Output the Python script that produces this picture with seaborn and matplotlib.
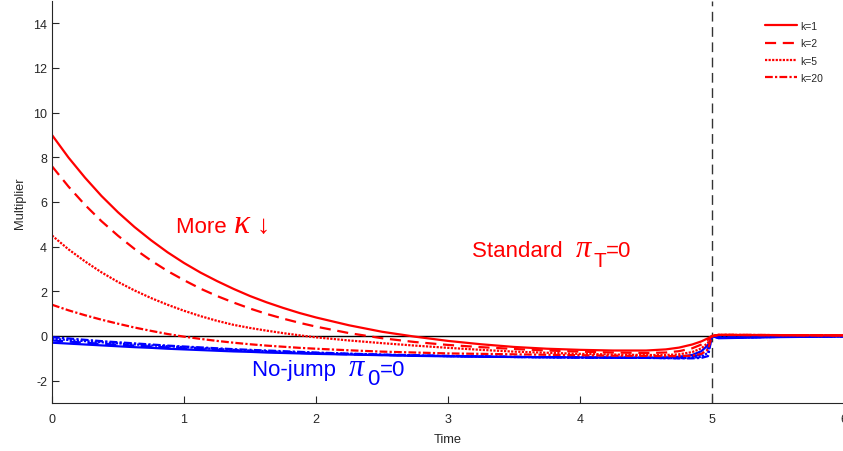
import numpy as np
import pandas as pd
import matplotlib
matplotlib.use("Agg")
import matplotlib.pyplot as plt
import seaborn as sns

# ---------------- data ----------------
time = [0, 0.125, 0.25, 0.375, 0.5, 0.625, 0.75, 0.875, 1.0, 1.125, 1.25, 1.375, 1.5,
        1.625, 1.75, 1.875, 2.0,
        2.25, 2.5, 2.75, 3.0, 3.25, 3.5, 3.75, 4.0, 4.25, 4.5,
        4.65, 4.75, 4.85, 4.92, 4.97, 5.0,
        5.05, 5.5, 6.0]

labels = ["k=1", "k=2", "k=5", "k=20"]

std_k1 = [9.0, 7.99, 7.09, 6.27, 5.54, 4.88, 4.29, 3.75, 3.27, 2.84, 2.46, 2.11, 1.79,
          1.51, 1.26, 1.03, 0.83,
          0.48, 0.19, -0.03, -0.22, -0.37, -0.49, -0.57, -0.62, -0.65, -0.65,
          -0.6, -0.52, -0.38, -0.24, -0.1, 0.0,
          0.05, 0.04, 0.03]
std_k2 = [7.6, 6.69, 5.87, 5.14, 4.49, 3.9, 3.38, 2.91, 2.5, 2.12, 1.79, 1.5, 1.23,
          0.99, 0.78, 0.59, 0.42,
          0.13, -0.1, -0.27, -0.4, -0.5, -0.58, -0.65, -0.7, -0.74, -0.76,
          -0.74, -0.68, -0.55, -0.38, -0.17, 0.0,
          0.05, 0.04, 0.03]
std_k5 = [4.5, 3.88, 3.34, 2.85, 2.42, 2.04, 1.7, 1.4, 1.13, 0.89, 0.68, 0.5, 0.36,
          0.24, 0.13, 0.03, -0.06,
          -0.2, -0.32, -0.43, -0.53, -0.62, -0.7, -0.75, -0.8, -0.83, -0.85,
          -0.85, -0.82, -0.72, -0.55, -0.3, 0.0,
          0.05, 0.04, 0.03]
std_k20 = [1.4, 1.15, 0.93, 0.73, 0.55, 0.38, 0.23, 0.09, -0.03, -0.13, -0.22, -0.3, -0.37,
           -0.43, -0.48, -0.53, -0.57,
           -0.64, -0.7, -0.74, -0.78, -0.8, -0.82, -0.84, -0.86, -0.88, -0.89,
           -0.9, -0.9, -0.88, -0.8, -0.6, 0.0,
           0.05, 0.04, 0.03]

nj_k1 = [-0.3, -0.34, -0.38, -0.42, -0.46, -0.5, -0.53, -0.57, -0.6, -0.63, -0.66, -0.69, -0.71,
         -0.74, -0.76, -0.78, -0.8,
         -0.83, -0.86, -0.89, -0.91, -0.93, -0.94, -0.95, -0.96, -0.97, -0.97,
         -0.96, -0.93, -0.85, -0.68, -0.4, 0.0,
         -0.1, -0.05, -0.02]
nj_k2 = [-0.2, -0.25, -0.3, -0.35, -0.39, -0.43, -0.47, -0.51, -0.55, -0.59, -0.62, -0.65, -0.68,
         -0.71, -0.73, -0.76, -0.78,
         -0.82, -0.85, -0.88, -0.9, -0.92, -0.94, -0.95, -0.96, -0.97, -0.98,
         -0.98, -0.97, -0.93, -0.82, -0.55, 0.0,
         -0.08, -0.04, -0.02]
nj_k5 = [-0.12, -0.18, -0.23, -0.28, -0.33, -0.38, -0.42, -0.46, -0.5, -0.54, -0.58, -0.62, -0.65,
         -0.68, -0.71, -0.74, -0.76,
         -0.8, -0.84, -0.87, -0.9, -0.92, -0.94, -0.95, -0.96, -0.97, -0.98,
         -0.99, -0.99, -0.98, -0.93, -0.75, 0.0,
         -0.07, -0.04, -0.02]
nj_k20 = [-0.05, -0.11, -0.17, -0.23, -0.28, -0.33, -0.38, -0.43, -0.47, -0.51, -0.55, -0.59, -0.62,
          -0.65, -0.68, -0.71, -0.74,
          -0.79, -0.83, -0.86, -0.89, -0.91, -0.93, -0.95, -0.96, -0.97, -0.98,
          -0.99, -1.0, -1.0, -0.98, -0.9, 0.0,
          -0.06, -0.03, -0.01]

x_ticks = [0, 1, 2, 3, 4, 5, 6]
y_ticks = [-2, 0, 2, 4, 6, 8, 10, 12, 14]

# ---------------- style ----------------
sns.set_style("ticks")
plt.rcParams["font.family"] = ["Liberation Sans", "DejaVu Sans"]
plt.rcParams["axes.unicode_minus"] = False
plt.rcParams["mathtext.fontset"] = "custom"
plt.rcParams["mathtext.rm"] = "Liberation Sans"
plt.rcParams["mathtext.it"] = "Liberation Serif:italic"

W, H = 843, 452
fig = plt.figure(figsize=(W / 100, H / 100), dpi=100)
ax = fig.add_axes([52 / W, 1 - 404 / H, 792 / W, 402 / H])

styles = ["-", (0, (5, 3)), (0, (1, 0.6)), (0, (3.5, 1, 1, 1))]
std_series = [std_k1, std_k2, std_k5, std_k20]
nj_series = [nj_k1, nj_k2, nj_k5, nj_k20]

for lab, vals, ls in zip(labels, nj_series, styles):
    df = pd.DataFrame({"Time": time, "Multiplier": vals})
    sns.lineplot(data=df, x="Time", y="Multiplier", ax=ax, color="#0000ff",
                 linewidth=1.6, linestyle=ls, legend=False)

for lab, vals, ls in zip(labels, std_series, styles):
    df = pd.DataFrame({"Time": time, "Multiplier": vals})
    sns.lineplot(data=df, x="Time", y="Multiplier", ax=ax, color="#ff0000",
                 linewidth=1.6, linestyle=ls, label=lab)

ax.axhline(0, color="black", linewidth=1.0, zorder=1)
ax.axvline(5, color="#333333", linewidth=1.0, linestyle=(0, (7, 4)), zorder=1)

ax.set_xlim(0, 6)
ax.set_ylim(-3, 15)
ax.set_xticks(x_ticks)
ax.set_yticks(y_ticks)
ax.set_xticklabels([str(v) for v in x_ticks])
ax.set_yticklabels([str(v) for v in y_ticks])
ax.tick_params(direction="in", length=5, width=0.8, labelsize=9, colors="#262626")
ax.tick_params(axis="x", pad=7)
ax.set_xlabel("Time", fontsize=9.3, color="#262626", labelpad=6)
ax.set_ylabel("Multiplier", fontsize=9.3, color="#262626", labelpad=5)

for s in ["top", "right"]:
    ax.spines[s].set_visible(False)
for s in ["left", "bottom"]:
    ax.spines[s].set_color("#262626")
    ax.spines[s].set_linewidth(0.8)


def rich_text(x, y, pieces, color):
    """pieces: list of (string, drop_px, fontsize, gap_px) placed one after another."""
    fig.canvas.draw()
    renderer = fig.canvas.get_renderer()
    disp_x, disp_y = ax.transData.transform((x, y))
    for s, drop, fs, gap in pieces:
        t = fig.text((disp_x + gap) / W, (disp_y - drop) / H, s, color=color,
                     fontsize=fs, ha="left", va="baseline")
        bb = t.get_window_extent(renderer=renderer)
        disp_x = bb.x1


rich_text(0.94, 4.65, [("More ", 0, 16, 0), (r"$\kappa$", 0, 24, 0),
                       ("↓", 0, 19, 5)], "#ff0000")
rich_text(3.18, 3.58, [("Standard  ", 0, 16, 0), (r"$\pi$", 0, 22, 0),
                       ("T", 10, 15, 1), ("=0", 0, 16, 0)], "#ff0000")
rich_text(1.515, -1.74, [("No-jump  ", 0, 16, 0), (r"$\pi$", 0, 22, 0),
                         ("0", 9, 16, 1), ("=0", 0, 16, 0)], "#0000ff")

leg = ax.legend(loc="upper left", bbox_to_anchor=(765 / W, 1 - 22 / H),
                bbox_transform=fig.transFigure, frameon=False, borderpad=0,
                borderaxespad=0, fontsize=7.5, handlelength=3.1,
                handletextpad=0.3, labelspacing=0.7)

fig.savefig("out.png", dpi=100)
